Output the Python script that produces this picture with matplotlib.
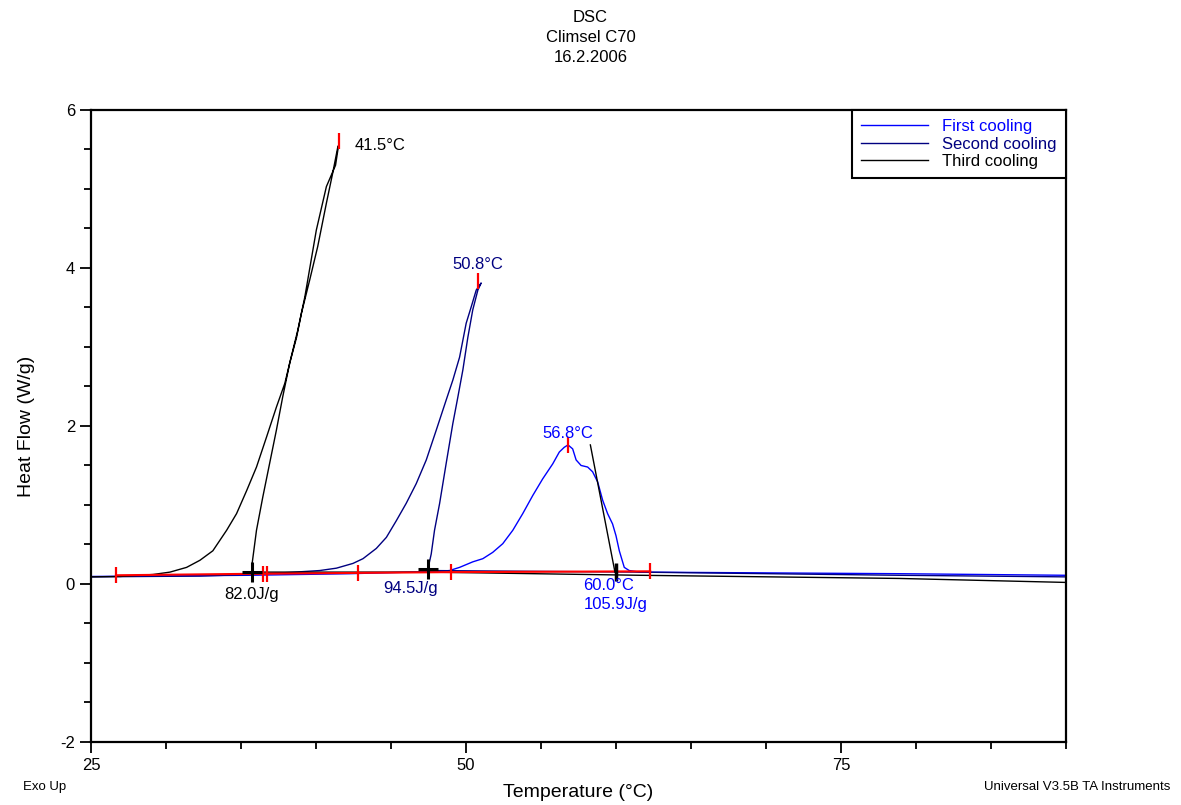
import matplotlib
matplotlib.use('Agg')
import matplotlib.pyplot as plt
from matplotlib.ticker import MultipleLocator

plt.rcParams['font.family'] = ['Liberation Sans', 'DejaVu Sans']
plt.rcParams['axes.unicode_minus'] = False

# curves, in recording order (cooling from 90 C downwards)
first_T = [89.9, 78.86, 61.55, 60.88, 60.55, 60.22, 60.00, 59.77, 59.44, 59.11, 58.78, 58.44,
           58.11, 57.67, 57.34, 57.11, 56.8, 56.55, 56.22, 55.78, 55.11, 54.45, 53.78, 53.12,
           52.45, 51.78, 51.12, 50.45, 49.57, 48.90, 48.24, 42.24, 35.59, 25.0]
first_HF = [0.11, 0.13, 0.15, 0.17, 0.21, 0.42, 0.61, 0.76, 0.89, 1.06, 1.29, 1.42,
            1.48, 1.50, 1.57, 1.71, 1.76, 1.73, 1.67, 1.52, 1.33, 1.12, 0.89, 0.68,
            0.51, 0.40, 0.32, 0.28, 0.21, 0.17, 0.16, 0.13, 0.11, 0.095]

second_T = [89.9, 78.86, 61.55, 47.57, 47.46, 47.68, 47.90, 48.24, 48.68, 49.12, 49.45, 49.79,
            50.12, 50.45, 50.79, 51.01, 50.68, 50.35, 50.01, 49.57, 49.12, 48.68, 48.02, 47.35,
            46.68, 46.01, 45.35, 44.69, 44.02, 43.13, 42.46, 41.36, 40.25, 38.25, 35.59, 32.26, 25.0]
second_HF = [0.09, 0.11, 0.15, 0.17, 0.19, 0.38, 0.68, 1.02, 1.53, 2.03, 2.36, 2.71,
             3.12, 3.47, 3.72, 3.81, 3.72, 3.51, 3.30, 2.87, 2.58, 2.33, 1.95, 1.57,
             1.27, 1.02, 0.80, 0.59, 0.45, 0.32, 0.26, 0.20, 0.17, 0.146, 0.12, 0.10, 0.09]

third_T = [89.9, 78.86, 61.55, 47.57, 35.72, 35.74, 36.03, 36.45, 36.91, 37.36, 37.78, 38.25,
           38.70, 39.03, 39.58, 40.11, 40.69, 41.11, 41.44, 41.5, 41.3, 40.69, 40.02, 39.25,
           38.78, 38.25, 37.92, 37.36, 36.70, 36.03, 35.37, 34.70, 34.04, 33.12, 32.26, 31.37,
           30.26, 29.13, 26.93, 25.0]
third_HF = [0.02, 0.07, 0.11, 0.15, 0.15, 0.26, 0.68, 1.10, 1.53, 1.95, 2.37, 2.80,
            3.12, 3.43, 3.85, 4.27, 4.82, 5.20, 5.52, 5.55, 5.30, 5.03, 4.48, 3.63,
            3.21, 2.80, 2.54, 2.24, 1.86, 1.48, 1.18, 0.89, 0.68, 0.42, 0.30, 0.21,
            0.15, 0.12, 0.095, 0.09]

# analysis results
peak_T = [41.5, 50.8, 56.8]
peak_HF = [5.61, 3.84, 1.76]
limit_T = [26.66, 36.45, 36.72, 42.78, 48.97, 62.28]
limit_HF = [0.11, 0.13, 0.13, 0.14, 0.15, 0.16]
onset_T = [35.72, 47.46]
onset_HF = [0.15, 0.19]
tangent_T = [58.29, 59.93]
tangent_HF = [1.76, 0.15]
onset3_T = 60.0
onset3_HF = 0.15

c_first = '#0000ff'
c_second = '#000080'
c_third = 'black'

fig = plt.figure(figsize=(11.81, 8.05), dpi=100)
ax = fig.add_axes([0.0771, 0.0783, 0.8255, 0.7851])

ax.plot(first_T, first_HF, color=c_first, lw=1, label='First cooling')
ax.plot(second_T, second_HF, color=c_second, lw=1, label='Second cooling')
ax.plot(third_T, third_HF, color=c_third, lw=1, label='Third cooling')

# integration baselines and limits
ax.plot(limit_T, limit_HF, color='red', lw=1.5)
ax.plot(limit_T, limit_HF, ls='none', marker='|', ms=11, mew=1.6, color='red')
ax.plot(peak_T, peak_HF, ls='none', marker='|', ms=12, mew=1.6, color='red')

# onsets
ax.plot(onset_T, onset_HF, ls='none', marker='+', ms=14, mew=2.2, color='black')
ax.plot(tangent_T, tangent_HF, color='black', lw=1)
ax.plot([onset3_T], [onset3_HF], ls='none', marker='|', ms=13, mew=2.5, color='black')

fs = 12
ax.text(42.58, 5.55, '41.5°C', color=c_third, fontsize=fs, ha='left', va='center')
ax.text(50.77, 4.05, '50.8°C', color=c_second, fontsize=fs, ha='center', va='center')
ax.text(56.76, 1.91, '56.8°C', color=c_first, fontsize=fs, ha='center', va='center')
ax.text(35.72, -0.13, '82.0J/g', color=c_third, fontsize=fs, ha='center', va='center')
ax.text(46.3, -0.06, '94.5J/g', color=c_second, fontsize=fs, ha='center', va='center')
ax.text(59.52, -0.02, '60.0°C', color=c_first, fontsize=fs, ha='center', va='center')
ax.text(59.95, -0.26, '105.9J/g', color=c_first, fontsize=fs, ha='center', va='center')

ax.set_xlim(25, 90)
ax.set_ylim(-2, 6)
ax.xaxis.set_major_locator(MultipleLocator(25))
ax.xaxis.set_minor_locator(MultipleLocator(5))
ax.yaxis.set_major_locator(MultipleLocator(2))
ax.yaxis.set_minor_locator(MultipleLocator(0.5))
ax.tick_params(which='major', length=8, width=1.3, labelsize=12, direction='out')
ax.tick_params(which='minor', length=5, width=1.3, direction='out')
for s in ax.spines.values():
    s.set_linewidth(1.6)

ax.set_xlabel('Temperature (°C)', fontsize=14, labelpad=8)
ax.set_ylabel('Heat Flow (W/g)', fontsize=14, labelpad=18)

fig.text(0.5, 0.978, 'DSC', ha='center', va='center', fontsize=12)
fig.text(0.5, 0.954, 'Climsel C70', ha='center', va='center', fontsize=12)
fig.text(0.5, 0.928, '16.2.2006', ha='center', va='center', fontsize=12)
fig.text(0.038, 0.022, 'Exo Up', ha='center', va='center', fontsize=9.5)
fig.text(0.991, 0.022, 'Universal V3.5B TA Instruments', ha='right', va='center', fontsize=9.5)

leg = ax.legend(loc='upper right', bbox_to_anchor=(1, 1), borderaxespad=0, fontsize=12,
                frameon=True, fancybox=False, edgecolor='black', framealpha=1,
                handlelength=4.0, handletextpad=0.85, labelspacing=0.15, borderpad=0.55)
leg.get_frame().set_linewidth(1.5)
for t, c in zip(leg.get_texts(), [c_first, c_second, c_third]):
    t.set_color(c)

fig.savefig('out.png', dpi=100)
